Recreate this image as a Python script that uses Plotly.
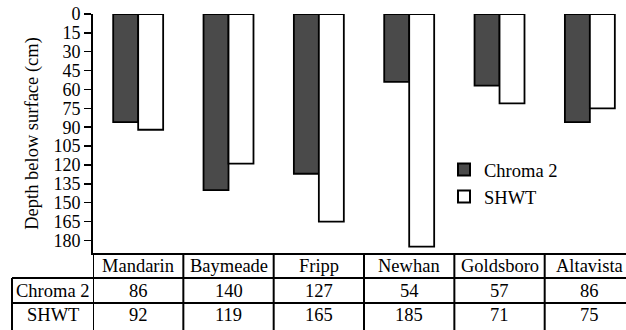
import plotly.graph_objects as go

# ---- data ----
sites = ["Mandarin", "Baymeade", "Fripp", "Newhan", "Goldsboro", "Altavista"]
chroma2 = [86, 140, 127, 54, 57, 86]
shwt = [92, 119, 165, 185, 71, 75]
series_names = ["Chroma 2", "SHWT"]
y_ticks = list(range(0, 181, 15))
y_title = "Depth below surface (cm)"

# ---- layout geometry (pixels) ----
W, H = 626, 330
L, R, T, B = 93, 0, 14, 77
plot_h = H - T - B
plot_w = W - L - R


def py(pix):
    return (H - B - pix) / plot_h


def px(pix):
    return (pix - L) / plot_w


FONT = "Liberation Serif"

fig = go.Figure()
fig.add_trace(go.Bar(x=sites, y=chroma2, name=series_names[0],
                     marker=dict(color="#4a4a4a", line=dict(color="black", width=1.8))))
fig.add_trace(go.Bar(x=sites, y=shwt, name=series_names[1],
                     marker=dict(color="white", line=dict(color="black", width=1.8))))

# ---- table below the axis ----
row_lines = [278, 303]
row_centers = [266, 290.5, 315.5]
shapes = []
line = dict(color="black", width=2)
for yl in row_lines:
    shapes.append(dict(type="line", xref="paper", yref="paper",
                       x0=px(12), x1=1.02, y0=py(yl), y1=py(yl), line=line))
# left border of row labels
shapes.append(dict(type="line", xref="paper", yref="paper",
                   x0=px(12), x1=px(12), y0=py(row_lines[0]), y1=py(H + 5), line=line))
# column boundaries
for i in range(len(sites)):
    shapes.append(dict(type="line", xref="x", yref="paper",
                       x0=i - 0.5, x1=i - 0.5, y0=0, y1=py(H + 5), line=line))

annotations = []
tf = dict(family=FONT, size=18.5, color="black")
for i, s in enumerate(sites):
    annotations.append(dict(x=i, y=py(row_centers[0]), xref="x", yref="paper",
                            text=s, showarrow=False, yanchor="middle", font=tf))
    annotations.append(dict(x=i, y=py(row_centers[1]), xref="x", yref="paper",
                            text=str(chroma2[i]), showarrow=False, yanchor="middle", font=tf))
    annotations.append(dict(x=i, y=py(row_centers[2]), xref="x", yref="paper",
                            text=str(shwt[i]), showarrow=False, yanchor="middle", font=tf))
for j, nm in enumerate(series_names):
    annotations.append(dict(x=px(52.5), y=py(row_centers[j + 1]), xref="paper", yref="paper",
                            text=nm, showarrow=False, yanchor="middle", xanchor="center",
                            font=tf))

fig.update_layout(
    width=W, height=H,
    margin=dict(l=L, r=R, t=T, b=B, autoexpand=False),
    paper_bgcolor="white", plot_bgcolor="white",
    font=dict(family=FONT, size=18, color="black"),
    barmode="group", bargap=0.447, bargroupgap=0,
    showlegend=True,
    legend=dict(x=px(444), y=py(151), xanchor="left", yanchor="top",
                bgcolor="rgba(0,0,0,0)", font=dict(family=FONT, size=18.5),
                tracegroupgap=0, itemsizing="constant"),
    xaxis=dict(range=[-0.5, 5.4], showticklabels=False, ticks="",
               showline=True, linecolor="black", linewidth=2, showgrid=False,
               zeroline=False, fixedrange=True),
    yaxis=dict(range=[190, 0], tickvals=y_ticks, ticks="outside", ticklen=7,
               tickwidth=1.5, tickcolor="black", showline=True, linecolor="black",
               linewidth=2, showgrid=False, zeroline=False,
               tickfont=dict(family=FONT, size=18),
               title=dict(text=y_title, font=dict(family=FONT, size=18.5), standoff=10)),
    shapes=shapes, annotations=annotations,
)

fig.write_html("out.html", config={"displayModeBar": False, "staticPlot": True},
               post_script="document.body.style.margin='0';document.body.style.padding='0';")
